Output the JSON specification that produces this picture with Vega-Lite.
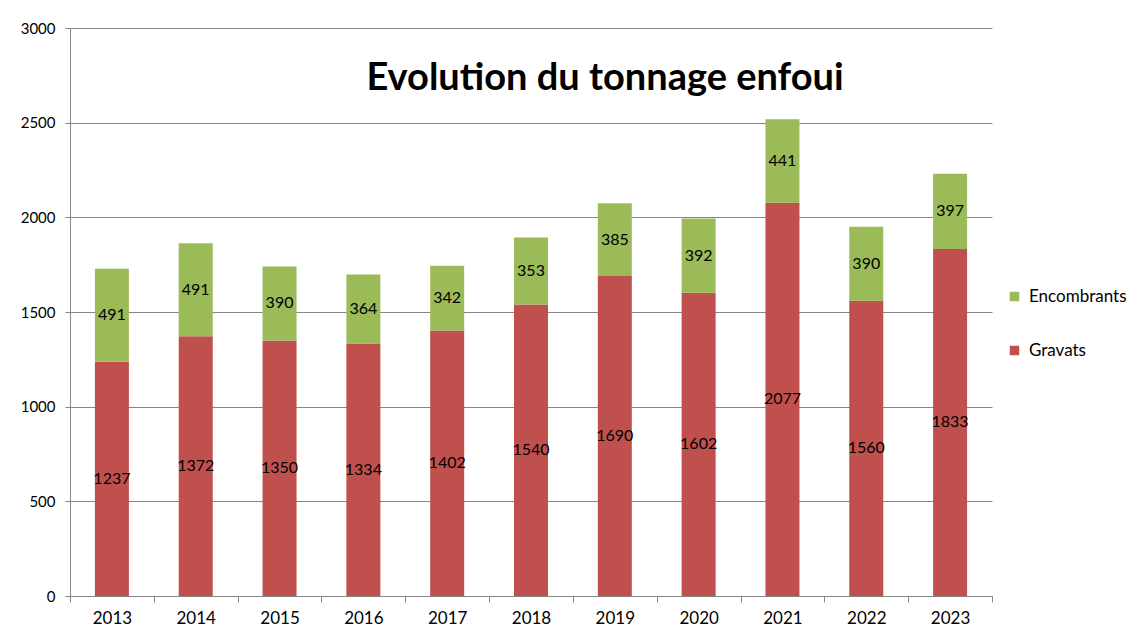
{
  "$schema": "https://vega.github.io/schema/vega-lite/v6.json",
  "width": 922,
  "height": 568,
  "autosize": {"type": "none"},
  "padding": {"left": 70, "top": 28, "right": 154, "bottom": 45},
  "background": "white",
  "title": {
    "text": "Evolution du tonnage enfoui",
    "font": "Lato",
    "fontSize": 38,
    "fontWeight": "bold",
    "color": "#000000",
    "anchor": "middle",
    "dx": 74,
    "offset": -96,
    "baseline": "middle"
  },
  "data": {
    "values": [
      {"annee": "2013", "type": "Gravats", "tonnes": 1237, "ordre": 1},
      {"annee": "2013", "type": "Encombrants", "tonnes": 491, "ordre": 2},
      {"annee": "2014", "type": "Gravats", "tonnes": 1372, "ordre": 1},
      {"annee": "2014", "type": "Encombrants", "tonnes": 491, "ordre": 2},
      {"annee": "2015", "type": "Gravats", "tonnes": 1350, "ordre": 1},
      {"annee": "2015", "type": "Encombrants", "tonnes": 390, "ordre": 2},
      {"annee": "2016", "type": "Gravats", "tonnes": 1334, "ordre": 1},
      {"annee": "2016", "type": "Encombrants", "tonnes": 364, "ordre": 2},
      {"annee": "2017", "type": "Gravats", "tonnes": 1402, "ordre": 1},
      {"annee": "2017", "type": "Encombrants", "tonnes": 342, "ordre": 2},
      {"annee": "2018", "type": "Gravats", "tonnes": 1540, "ordre": 1},
      {"annee": "2018", "type": "Encombrants", "tonnes": 353, "ordre": 2},
      {"annee": "2019", "type": "Gravats", "tonnes": 1690, "ordre": 1},
      {"annee": "2019", "type": "Encombrants", "tonnes": 385, "ordre": 2},
      {"annee": "2020", "type": "Gravats", "tonnes": 1602, "ordre": 1},
      {"annee": "2020", "type": "Encombrants", "tonnes": 392, "ordre": 2},
      {"annee": "2021", "type": "Gravats", "tonnes": 2077, "ordre": 1},
      {"annee": "2021", "type": "Encombrants", "tonnes": 441, "ordre": 2},
      {"annee": "2022", "type": "Gravats", "tonnes": 1560, "ordre": 1},
      {"annee": "2022", "type": "Encombrants", "tonnes": 390, "ordre": 2},
      {"annee": "2023", "type": "Gravats", "tonnes": 1833, "ordre": 1},
      {"annee": "2023", "type": "Encombrants", "tonnes": 397, "ordre": 2}
    ]
  },
  "encoding": {
    "x": {
      "field": "annee",
      "type": "nominal",
      "title": null,
      "scale": {"paddingInner": 0, "paddingOuter": 0},
      "axis": {
        "labelAngle": 0,
        "labelFont": "Lato",
        "labelFontSize": 17,
        "labelColor": "#000000",
        "labelPadding": 8,
        "domainColor": "#868686",
        "tickColor": "#868686",
        "tickBand": "extent",
        "tickSize": 6,
        "grid": false
      }
    },
    "y": {
      "field": "tonnes",
      "type": "quantitative",
      "stack": "zero",
      "title": null,
      "scale": {"domain": [0, 3000], "nice": false},
      "axis": {
        "values": [0, 500, 1000, 1500, 2000, 2500, 3000],
        "format": "d",
        "labelFont": "Lato",
        "labelFontSize": 15,
        "labelColor": "#000000",
        "labelPadding": 10,
        "domainColor": "#868686",
        "tickColor": "#868686",
        "tickSize": 5,
        "gridColor": "#868686",
        "gridWidth": 1
      }
    },
    "order": {"field": "ordre", "type": "quantitative"}
  },
  "layer": [
    {
      "mark": {"type": "bar", "size": 34},
      "encoding": {
        "color": {
          "field": "type",
          "type": "nominal",
          "scale": {"domain": ["Encombrants", "Gravats"], "range": ["#9BBB59", "#C0504D"]},
          "legend": {
            "title": null,
            "orient": "none",
            "legendX": 936,
            "legendY": 260,
            "symbolType": "square",
            "symbolSize": 90,
            "symbolStrokeWidth": 0,
            "labelFont": "Lato",
            "labelFontSize": 17,
            "labelColor": "#000000",
            "rowPadding": 36,
            "labelOffset": 6
          }
        }
      }
    },
    {
      "mark": {"type": "text", "font": "Lato", "fontSize": 16, "color": "#000000", "baseline": "middle"},
      "encoding": {
        "y": {"field": "tonnes", "type": "quantitative", "stack": "zero", "bandPosition": 0.5},
        "text": {"field": "tonnes", "type": "quantitative"}
      }
    }
  ],
  "config": {"view": {"stroke": null}}
}
